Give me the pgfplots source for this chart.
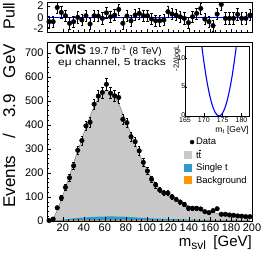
\documentclass[border=0pt]{standalone}
\usepackage{pgfplots}
\pgfplotsset{compat=1.18}
\usepackage{pgfplotstable}
\usepackage{fontspec}
\setmainfont{Liberation Sans}
\definecolor{ttgray}{RGB}{200,200,200}
\definecolor{stblue}{RGB}{51,153,204}
\definecolor{bkorange}{RGB}{255,153,0}
\pgfplotstableread{
x data err pull mc stbk bk
6.95 2 1.4 -0.77 2 0.5 0.2
10.85 8 2.8 -0.77 8 1.5 0.5
14.75 55 7.4 1.75 45 3 1
18.65 96 9.8 0.88 88 5 1.5
22.55 140 11.8 0.28 138 7 2
26.45 180 13.4 -1.05 190 9 2
30.35 230 15.2 -0.77 242 11 2.5
34.25 294 17.1 0.00 292 13 2.5
38.15 335 18.3 -0.47 340 14 2.5
42.05 396 19.9 0.28 390 15 2.5
45.95 411 20.3 -1.17 435 16 2.5
49.85 486 22.0 0.28 478 17 2.5
53.75 520 22.8 0.23 512 18 2.5
57.65 535 23.1 -0.18 535 18 2.5
61.55 569 23.9 0.80 545 19 2.5
65.45 532 23.1 0.10 540 19 2.5
69.35 521 22.8 0.40 520 19 2.5
73.25 514 22.7 1.40 488 18 2.5
77.15 423 20.6 -1.05 448 18 2.5
81.05 409 20.2 0.23 405 17 2.5
84.95 351 18.7 -0.60 362 16 2.5
88.85 330 18.2 0.40 322 15 2.4
92.75 292 17.1 0.70 280 14 2.3
96.65 244 15.6 0.28 242 13 2.2
100.55 208 14.4 0.28 207 12 2.1
104.45 174 13.2 -0.30 179 11 2
108.35 150 12.2 -0.60 156 10 2
112.25 129 11.4 -0.60 136 9.5 1.9
116.15 117 10.8 -0.47 120 9 1.8
120.05 116 10.8 1.00 106 8.5 1.8
123.95 101 10.0 0.58 95 8 1.7
127.85 90 9.5 0.40 85 7.5 1.7
131.75 79 8.9 0.10 77 7 1.6
135.65 69 8.3 -0.18 69 6.5 1.6
139.55 54 7.3 -0.95 62 6 1.5
143.45 53 7.3 0.10 56 5.5 1.5
147.35 53 7.3 0.70 50 5.2 1.5
151.25 50 7.1 1.58 45 5 1.4
155.15 39 6.2 -0.30 41 4.7 1.4
159.05 35 5.9 -0.77 38 4.5 1.4
162.95 43 6.6 -1.47 35 4.2 1.3
166.85 51 7.1 0.58 32 4 1.3
170.75 28 5.3 2.28 30 3.8 1.3
174.65 28 5.3 -0.18 27 3.6 1.2
178.55 25 5.0 -0.18 25 3.4 1.2
182.45 24 4.9 -0.18 23 3.2 1.2
186.35 21 4.6 0.53 21 3 1.1
190.25 20 4.5 -0.18 20 2.9 1.1
194.15 18 4.2 -0.18 18 2.8 1.1
198.05 18 4.2 0.40 17 2.7 1
}\datatab
\pgfplotstableread{
mt nll
169.5 12.0
170.0 9.51
170.5 7.31
171.0 5.40
171.5 3.77
172.0 2.44
172.5 1.39
173.0 0.64
173.5 0.18
174.0 0.0
174.5 0.12
175.0 0.52
175.5 1.22
176.0 2.21
176.5 3.48
177.0 5.05
177.5 6.90
178.0 9.05
178.5 11.49
178.6 12.0
}\nlltab
\newcommand{\ttbar}{t\rlap{\hspace{0.02em}\raisebox{0.8em}{\rule{0.27em}{0.06em}}}t}
\pgfplotsset{cmsstyle/.style={
  scale only axis, tick align=inside, tick pos=left,
  major tick length=4pt, minor tick length=2pt,
  every tick/.style={black, line width=0.4pt},
  axis line style={line width=0.5pt},
  /pgf/number format/assume math mode=true,
  ticklabel style={font=\fontsize{11}{11}\selectfont},
},
boxlegend/.style={legend image code/.code={\fill[##1] (0pt,-4pt) rectangle (8pt,4pt);}}
}
\begin{document}
\begin{tikzpicture}
\useasboundingbox (-47pt,-32pt) rectangle (219pt,221pt);
% main
\begin{axis}[cmsstyle, at={(0pt,0pt)}, anchor=south west, width=205pt, height=179pt,
  xmin=5, xmax=200, ymin=0, ymax=745,
  xtick={20,40,...,200}, minor x tick num=3,
  ytick={0,100,...,700}, minor y tick num=4,
  xticklabel style={yshift=1pt, inner xsep=0pt},
  axis on top,
  legend style={at={(0.665,0.47)}, anchor=north west, draw=none, fill=none,
    font=\fontsize{9.5}{9.5}\selectfont, row sep=2pt, inner sep=0pt,
    nodes={inner xsep=2pt, inner ysep=1pt}},
  legend cell align=left,
]
\addlegendimage{only marks, mark=*, mark size=2pt, black}
\addlegendentry{Data}
\addlegendimage{boxlegend, fill=ttgray, draw=none}
\addlegendentry{\ttbar}
\addlegendimage{boxlegend, fill=stblue, draw=none}
\addlegendentry{Single t}
\addlegendimage{boxlegend, fill=bkorange, draw=none}
\addlegendentry{Background}
\addplot[forget plot, fill=ttgray, draw=gray!80!black, line width=0.4pt] table[x=x,y=mc] {\datatab} \closedcycle;
\addplot[forget plot, fill=stblue, draw=none] table[x=x,y=stbk] {\datatab} \closedcycle;
\addplot[forget plot, fill=bkorange, draw=none] table[x=x,y=bk] {\datatab} \closedcycle;
\addplot[forget plot, only marks, mark=*, mark size=2.3pt, black,
  error bars/.cd, y dir=both, y explicit,
  error bar style={line width=0.5pt},
  error mark options={rotate=90, mark size=1.2pt, line width=0.5pt}]
  table[x=x,y=data,y error=err] {\datatab};
\end{axis}
% pull
\begin{axis}[cmsstyle, at={(0pt,189pt)}, anchor=south west, width=205pt, height=29.3pt,
  xmin=5, xmax=200, ymin=-2.6, ymax=2.6,
  xtick={20,40,...,200}, minor x tick num=3, xticklabels={},
  ytick={-2,0,2}, minor y tick num=1,
  major tick length=3pt, minor tick length=1.5pt,
]
\addplot[blue, line width=0.4pt] coordinates {(5,0) (200,0)};
\addplot[only marks, mark=*, mark size=2.3pt, black,
  error bars/.cd, y dir=both, y fixed=1,
  error bar style={line width=0.5pt},
  error mark options={rotate=90, mark size=1.2pt, line width=0.5pt}]
  table[x=x,y=pull] {\datatab};
\end{axis}
% inset
\begin{axis}[cmsstyle, at={(138pt,105pt)}, anchor=south west, width=64pt, height=70pt,
  xmin=165, xmax=182, ymin=0, ymax=12.2,
  xtick={165,170,175,180}, ytick={0,5,10},
  major tick length=2.5pt,
  ticklabel style={font=\fontsize{7}{7}\selectfont},
  xticklabel style={yshift=1.5pt, inner xsep=0pt}, yticklabel style={xshift=1.5pt, inner xsep=1pt, yshift=1pt},
  axis background/.style={fill=white},
]
\addplot[blue, line width=1.1pt] table[x=mt,y=nll] {\nlltab};
\end{axis}
% labels
\node[rotate=90, anchor=east, inner sep=0pt, font=\fontsize{17}{17}\selectfont] at (-38pt,177pt) {Events\hspace{17pt}/\hspace{16pt}3.9\hspace{16pt}GeV};
\node[rotate=90, anchor=east, inner sep=0pt, font=\fontsize{16}{16}\selectfont] at (-38pt,218.5pt) {Pull};
\node[anchor=north east, inner sep=0pt, font=\fontsize{15}{15}\selectfont] at (205pt,-14pt) {m\textsubscript{\fontsize{12}{12}\selectfont svl}\hspace{7pt}[GeV]};
\node[anchor=base west, inner sep=0pt] at (8pt,166.5pt) {{\bfseries\fontsize{14}{14}\selectfont CMS}\hspace{3pt}{\fontsize{10}{10}\selectfont 19.7 fb\textsuperscript{-1} (8 TeV)}};
\node[anchor=base west, inner sep=0pt] at (11pt,155.5pt) {\scalebox{1.2}[1]{\fontsize{10}{10}\selectfont eμ channel, 5 tracks}};
\node[rotate=90, anchor=east, inner sep=0pt, font=\fontsize{7.5}{7.5}\selectfont] at (130pt,176pt) {-2ΔlogL};
\node[anchor=north east, inner sep=0pt, font=\fontsize{8.5}{8.5}\selectfont] at (202pt,95pt) {m\textsubscript{t} [GeV]};
\end{tikzpicture}
\end{document}
